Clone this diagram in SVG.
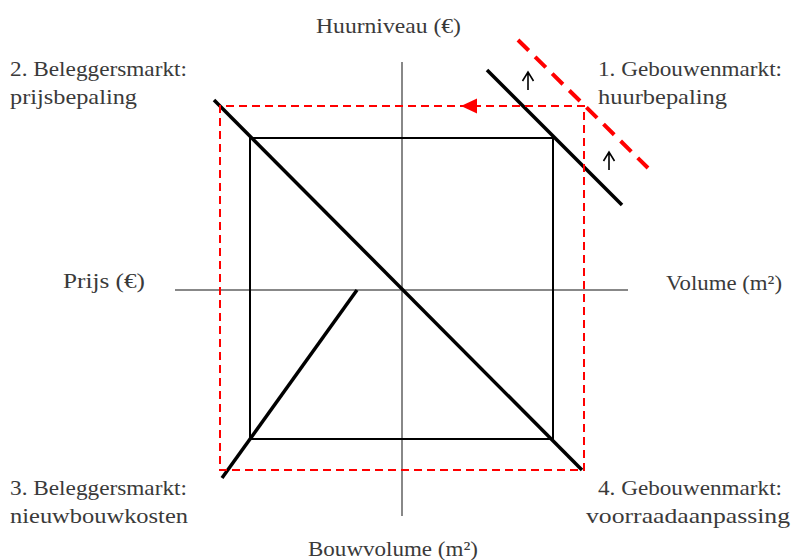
<svg xmlns="http://www.w3.org/2000/svg" width="792" height="560" viewBox="0 0 792 560">
<style>
text{font-family:"Liberation Serif","Times New Roman",serif;font-size:22px;fill:#3a3a3a}
.axis{stroke:#888;stroke-width:2;fill:none}
.sq{stroke:#000;stroke-width:2;fill:none}
.thick{stroke:#000;stroke-width:3.5;fill:none}
.rd{stroke:#f00;stroke-width:2;stroke-dasharray:8 5;fill:none}
.rdt{stroke:#f00;stroke-width:4;stroke-dasharray:15 9;fill:none}
.sm{stroke:#000;stroke-width:1.6;fill:none}
</style>
<rect width="792" height="560" fill="#fff"/>
<g id="axes">
<line class="axis" x1="402" y1="62" x2="402" y2="516"/>
<line class="axis" x1="175" y1="290" x2="628" y2="290"/>
</g>
<g id="square">
<rect class="sq" x="250" y="138" width="303" height="301"/>
</g>
<g id="connectors">
<line class="thick" x1="214" y1="100" x2="582" y2="470"/>
<line class="thick" x1="487" y1="70" x2="622" y2="205"/>
<line class="thick" x1="222" y1="478" x2="357" y2="290"/>
<path class="rd" d="M585,106 H220 V470 H584 V106"/>
<line class="rdt" x1="518" y1="40" x2="648" y2="168"/>
<polygon points="461,106 477,98.5 477,113.5" fill="#f00"/>
<path class="sm" d="M528,90 V72 M522.5,81 L528,72 L533.5,81"/>
<path class="sm" d="M609,170 V152 M603.5,161 L609,152 L614.5,161"/>
</g>
<g id="labels">
<text x="316" y="33" textLength="145" lengthAdjust="spacingAndGlyphs">Huurniveau (€)</text>
<text x="10" y="76" textLength="177" lengthAdjust="spacingAndGlyphs">2. Beleggersmarkt:</text>
<text x="10" y="104" textLength="127" lengthAdjust="spacingAndGlyphs">prijsbepaling</text>
<text x="598" y="76" textLength="184" lengthAdjust="spacingAndGlyphs">1. Gebouwenmarkt:</text>
<text x="598" y="104" textLength="129" lengthAdjust="spacingAndGlyphs">huurbepaling</text>
<text x="63" y="288" textLength="82" lengthAdjust="spacingAndGlyphs">Prijs (€)</text>
<text x="666" y="290" textLength="116" lengthAdjust="spacingAndGlyphs">Volume (m²)</text>
<text x="10" y="495" textLength="177" lengthAdjust="spacingAndGlyphs">3. Beleggersmarkt:</text>
<text x="10" y="523" textLength="178" lengthAdjust="spacingAndGlyphs">nieuwbouwkosten</text>
<text x="598" y="495" textLength="184" lengthAdjust="spacingAndGlyphs">4. Gebouwenmarkt:</text>
<text x="586" y="523" textLength="204" lengthAdjust="spacingAndGlyphs">voorraadaanpassing</text>
<text x="308" y="556" textLength="170" lengthAdjust="spacingAndGlyphs">Bouwvolume (m²)</text>
</g>
</svg>
